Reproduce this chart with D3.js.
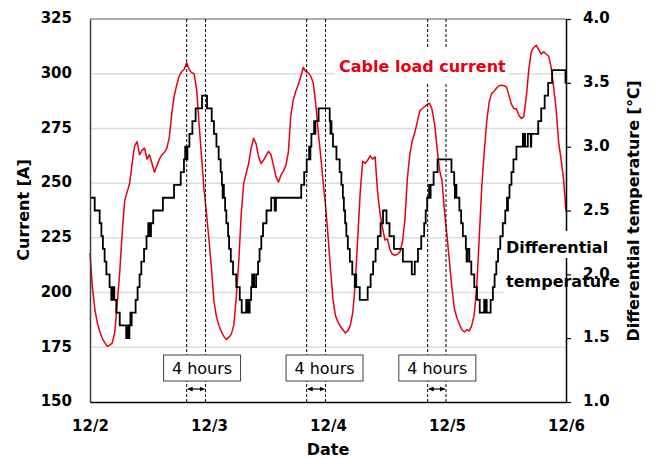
<!DOCTYPE html>
<html>
<head>
<meta charset="utf-8">
<script src="https://cdn.jsdelivr.net/npm/d3@7"></script>
<style>
body { margin: 0; background: #fff; }
text { font-family: "DejaVu Sans", Verdana, sans-serif; }
</style>
</head>
<body>
<div id="chart"></div>
<script>
document.addEventListener("DOMContentLoaded", main);

var dayLabels = ["12/2", "12/3", "12/4", "12/5", "12/6"];
var dayHours = [0, 24, 48, 72, 96];
var currentTicks = [150, 175, 200, 225, 250, 275, 300, 325];
var tempTicks = [1.0, 1.5, 2.0, 2.5, 3.0, 3.5, 4.0];

// cable load current [A], every half hour from 00:00
var current12_2 = [
	218, 202, 192, 186, 182, 179, 177, 175.5, 176, 177, 182, 195,
	209.5, 227.5, 242, 246, 250, 259, 267, 269, 263, 265, 266, 261,
	263, 259, 255, 258, 261, 263, 264, 266, 271, 282, 290, 295,
	299, 301, 302, 305, 302, 300.5, 300, 293, 277, 262, 247, 236
];
var current12_3 = [
	224, 211, 196, 189, 185, 182, 180, 178.5, 179.5, 181, 185, 198,
	214, 236, 250, 254.5, 259, 266, 270.5, 268, 262, 259, 260.5, 262.5,
	264.5, 263, 258, 253, 250.5, 253.5, 255.5, 258, 264, 281, 288, 292,
	295, 298.5, 303, 301, 300.5, 299, 296, 287, 274, 263, 251, 240
];
var current12_4 = [
	226, 211, 197, 189.5, 186.5, 184.5, 183, 181.5, 182.5, 185, 191, 204,
	225, 246, 260, 259, 260.5, 262.5, 261, 262, 246, 236, 229.5, 224,
	224.5, 219.5, 217.5, 217, 217.5, 218.5, 223, 233, 252, 263, 269.5, 273,
	278, 283, 284, 285, 286, 286.5, 283.5, 277, 266, 256, 251, 237
];
var current12_5 = [
	226, 214, 202, 192.5, 188.5, 185.5, 183, 182, 183, 182.5, 185, 190,
	203, 225, 248, 264, 278, 287, 291, 292, 293.5, 294.5, 294.7, 294.5,
	294, 290, 286, 284, 284, 281, 279.5, 280.5, 289.5, 302, 310, 312,
	313, 311, 309, 310, 309, 308, 303, 294, 284, 269, 261, 252
];
var currentEnd = 237;

// differential temperature [C], [hour, level] at each step change
var tempSteps12_2 = [
	[0, 2.6], [0.95, 2.5], [1.95, 2.4], [2.3, 2.3], [2.6, 2.2], [2.95, 2.1], [3.3, 2.0],
	[3.95, 1.9], [4.3, 1.8], [4.45, 1.9], [4.6, 1.8], [4.75, 1.9], [4.9, 1.8], [5.3, 1.7],
	[6.0, 1.6], [7.3, 1.5], [7.5, 1.6], [7.65, 1.5], [7.95, 1.6], [8.15, 1.7], [8.25, 1.6],
	[8.4, 1.7], [9.2, 1.8], [9.6, 1.9], [10.0, 2.0], [10.35, 2.1], [10.9, 2.2], [11.4, 2.3],
	[11.75, 2.4], [11.9, 2.3], [12.05, 2.4], [12.15, 2.3], [12.3, 2.4], [12.75, 2.5],
	[14.7, 2.6], [16.95, 2.7], [18.3, 2.8], [18.95, 2.9], [19.2, 3.0], [19.3, 2.9],
	[19.45, 3.0], [19.55, 2.9], [19.65, 3.0], [20.05, 3.1], [20.65, 3.2], [21.3, 3.3],
	[22.6, 3.4], [23.6, 3.3]
];
var tempSteps12_3 = [
	[24.55, 3.2], [25.0, 3.1], [25.5, 3.0], [25.95, 2.9], [26.35, 2.8], [26.6, 2.7],
	[26.75, 2.6], [26.85, 2.7], [27.0, 2.6], [27.25, 2.5], [27.5, 2.4], [27.85, 2.3],
	[28.05, 2.2], [28.4, 2.1], [28.85, 2.0], [29.5, 1.9], [30.2, 1.8], [30.6, 1.7],
	[31.5, 1.8], [31.85, 1.7], [32.2, 1.8], [32.5, 1.9], [32.7, 2.0], [32.8, 1.9],
	[33.0, 2.0], [33.1, 1.9], [33.5, 2.0], [33.9, 2.1], [34.2, 2.2], [34.55, 2.3],
	[34.9, 2.4], [35.6, 2.5], [36.55, 2.6], [37.25, 2.5], [37.5, 2.6], [42.6, 2.7],
	[43.2, 2.8], [43.7, 2.9], [44.2, 3.0], [44.35, 2.9], [44.45, 3.0], [44.65, 3.1],
	[45.2, 3.2], [45.35, 3.1], [45.45, 3.2], [46.1, 3.3]
];
var tempSteps12_4 = [
	[48.35, 3.2], [48.5, 3.1], [48.6, 3.2], [48.7, 3.1], [49.0, 3.0], [49.7, 2.9],
	[50.35, 2.8], [50.7, 2.7], [51.0, 2.6], [51.2, 2.5], [51.45, 2.4], [51.7, 2.3],
	[52.0, 2.2], [52.4, 2.1], [52.9, 2.0], [53.4, 1.9], [53.55, 2.0], [53.7, 1.9],
	[54.4, 1.8], [56.0, 1.9], [56.6, 2.0], [57.1, 2.1], [57.6, 2.2], [58.05, 2.3],
	[58.6, 2.4], [59.1, 2.5], [59.8, 2.4], [60.4, 2.3], [61.3, 2.2], [63.1, 2.1],
	[64.9, 2.0], [65.5, 2.1], [66.15, 2.2], [66.8, 2.3], [67.4, 2.4], [67.7, 2.5],
	[68.0, 2.6], [68.4, 2.7], [68.55, 2.6], [68.7, 2.7], [69.3, 2.8], [70.1, 2.9]
];
var tempSteps12_5 = [
	[72.9, 2.8], [73.45, 2.7], [73.6, 2.6], [73.7, 2.7], [73.9, 2.6], [74.5, 2.5],
	[74.85, 2.4], [75.2, 2.3], [75.8, 2.2], [75.95, 2.1], [76.1, 2.2], [76.5, 2.1],
	[76.9, 2.0], [77.5, 1.9], [78.05, 1.8], [78.6, 1.7], [79.5, 1.8], [79.6, 1.7],
	[79.9, 1.8], [80.0, 1.7], [80.8, 1.8], [81.25, 1.9], [81.6, 2.0], [81.95, 2.1],
	[82.3, 2.2], [82.75, 2.3], [83.25, 2.4], [83.75, 2.5], [84.1, 2.6], [84.2, 2.5],
	[84.3, 2.6], [84.6, 2.7], [85.0, 2.8], [85.4, 2.9], [86.0, 3.0], [87.3, 3.1],
	[87.45, 3.0], [87.6, 3.1], [87.75, 3.0], [88.3, 3.1], [88.9, 3.0], [89.0, 3.1],
	[90.4, 3.2], [91.0, 3.3], [91.7, 3.4], [92.4, 3.5], [93.2, 3.6], [95.9, 3.5], [96, 3.5]
];

// current peak -> temperature peak, and where the "4 hours" label sits
var peakPairs = [[19.5, 23.3], [43.7, 47.5], [68.1, 71.8]];
var lagLabelHours = [22.6, 47.3, 70.05];

var canvas = {};
var red = "#e60012";


function addCanvas(cont) {
	canvas.svg = d3.select(cont).append("svg")
		.attr("width", 655)
		.attr("height", 459);

	canvas.plot = { left: 90, right: 566, top: 19, bottom: 402 };

	canvas.x = d3.scaleLinear()
		.domain([0, 96])
		.range([canvas.plot.left, canvas.plot.right]);
	canvas.yL = d3.scaleLinear()
		.domain([150, 325])
		.range([canvas.plot.bottom, canvas.plot.top]);
	canvas.yR = d3.scaleLinear()
		.domain([1, 4])
		.range([canvas.plot.bottom, canvas.plot.top]);
}


function drawGrid() {
	var p = canvas.plot;
	canvas.svg.append("g").selectAll("line")
		.data(currentTicks.slice(1))
		.enter().append("line")
		.attr("x1", p.left)
		.attr("x2", p.right)
		.attr("y1", (d) => canvas.yL(d))
		.attr("y2", (d) => canvas.yL(d))
		.attr("stroke", (d) => d == 325 ? "#8c8c8c" : "#dcdcdc")
		.attr("stroke-width", 1.5);
}


function drawSeries() {
	var x = canvas.x;

	var current = [].concat(current12_2, current12_3, current12_4, current12_5, [currentEnd])
		.map((v, i) => ({ h: i * 0.5, v: v }));

	var temp = [].concat(tempSteps12_2, tempSteps12_3, tempSteps12_4, tempSteps12_5)
		.map((d) => ({ h: d[0], v: d[1] }));

	var currentLine = d3.line()
		.x((d) => x(d.h))
		.y((d) => canvas.yL(d.v));

	var tempLine = d3.line()
		.x((d) => x(d.h))
		.y((d) => canvas.yR(d.v))
		.curve(d3.curveStepAfter);

	canvas.svg.append("path")
		.datum(current)
		.attr("d", currentLine)
		.attr("fill", "none")
		.attr("stroke", red)
		.attr("stroke-width", 1.5)
		.attr("stroke-linejoin", "round");

	canvas.svg.append("path")
		.datum(temp)
		.attr("d", tempLine)
		.attr("fill", "none")
		.attr("stroke", "#000")
		.attr("stroke-width", 1.8);
}


function drawLags() {
	var p = canvas.plot;
	var x = canvas.x;

	var defs = canvas.svg.append("defs");
	defs.append("marker")
		.attr("id", "arrowhead")
		.attr("viewBox", "0 0 8 8")
		.attr("refX", 8)
		.attr("refY", 4)
		.attr("markerWidth", 5)
		.attr("markerHeight", 5)
		.attr("markerUnits", "userSpaceOnUse")
		.attr("orient", "auto-start-reverse")
		.append("path")
		.attr("d", "M0,0 L8,4 L0,8 z")
		.attr("fill", "#000");

	var lags = canvas.svg.append("g");

	peakPairs.forEach((pair) => {
		pair.forEach((h) => {
			lags.append("line")
				.attr("x1", x(h)).attr("x2", x(h))
				.attr("y1", p.top).attr("y2", p.bottom)
				.attr("stroke", "#000")
				.attr("stroke-width", 1)
				.attr("stroke-dasharray", "3,2");
		});

		lags.append("line")
			.attr("x1", x(pair[0]) + 1).attr("x2", x(pair[1]) - 1)
			.attr("y1", 389).attr("y2", 389)
			.attr("stroke", "#000")
			.attr("stroke-width", 1.2)
			.attr("marker-start", "url(#arrowhead)")
			.attr("marker-end", "url(#arrowhead)");
	});

	lagLabelHours.forEach((h) => {
		lags.append("rect")
			.attr("x", x(h) - 38.5)
			.attr("y", 355)
			.attr("width", 77)
			.attr("height", 26)
			.attr("fill", "#fff")
			.attr("stroke", "#404040")
			.attr("stroke-width", 1);
		lags.append("text")
			.attr("x", x(h))
			.attr("y", 374)
			.attr("text-anchor", "middle")
			.attr("font-size", 16)
			.text("4 hours");
	});
}


function drawAxes() {
	var p = canvas.plot;

	// white patch behind "temperature" inside the plot area
	canvas.svg.append("rect")
		.attr("x", 504).attr("y", 263)
		.attr("width", p.right - 504).attr("height", 33)
		.attr("fill", "#fff");

	var left = canvas.svg.append("g")
		.attr("transform", "translate(" + p.left + ",0)")
		.call(d3.axisLeft(canvas.yL)
			.tickValues(currentTicks)
			.tickSize(0)
			.tickPadding(18));

	var bottom = canvas.svg.append("g")
		.attr("transform", "translate(0," + p.bottom + ")")
		.call(d3.axisBottom(canvas.x)
			.tickValues(dayHours)
			.tickFormat((d, i) => dayLabels[i])
			.tickSize(0)
			.tickPadding(18));

	var right = canvas.svg.append("g")
		.attr("transform", "translate(" + p.right + ",0)")
		.call(d3.axisRight(canvas.yR)
			.tickValues(tempTicks)
			.tickFormat(d3.format(".1f"))
			.tickSizeInner(5)
			.tickSizeOuter(0)
			.tickPadding(12));

	[left, bottom, right].forEach((g) => {
		g.attr("font-family", null).attr("font-size", null);
		g.selectAll("text")
			.attr("font-size", 15)
			.attr("font-weight", "bold")
			.attr("fill", "#000");
		g.select(".domain")
			.attr("stroke", "#000")
			.attr("stroke-width", 1.5);
		g.selectAll(".tick line")
			.attr("stroke", "#000")
			.attr("stroke-width", 1.2);
	});
	left.select(".domain").attr("stroke", "#404040");
	left.selectAll("text").attr("dy", "0.25em");
	right.selectAll("text").attr("dy", "0.25em");
}


function drawLabels() {
	var svg = canvas.svg;

	svg.append("text")
		.attr("transform", "translate(29,210) rotate(-90)")
		.attr("text-anchor", "middle")
		.attr("font-size", 16)
		.attr("font-weight", "bold")
		.text("Current [A]");

	svg.append("text")
		.attr("transform", "translate(639,211) rotate(-90)")
		.attr("text-anchor", "middle")
		.attr("font-size", 16)
		.attr("font-weight", "bold")
		.text("Differential temperature [\u2103]");

	svg.append("text")
		.attr("x", 328)
		.attr("y", 455)
		.attr("text-anchor", "middle")
		.attr("font-size", 16)
		.attr("font-weight", "bold")
		.text("Date");

	svg.append("rect")
		.attr("x", 335).attr("y", 47)
		.attr("width", 173).attr("height", 36)
		.attr("fill", "#fff");
	svg.append("text")
		.attr("x", 339)
		.attr("y", 72)
		.attr("font-size", 16)
		.attr("font-weight", "bold")
		.attr("fill", red)
		.text("Cable load current");

	svg.append("rect")
		.attr("x", 504).attr("y", 231)
		.attr("width", 108).attr("height", 27)
		.attr("fill", "#fff");
	svg.append("text")
		.attr("x", 506)
		.attr("y", 253)
		.attr("font-size", 16)
		.attr("font-weight", "bold")
		.text("Differential");
	svg.append("text")
		.attr("x", 506)
		.attr("y", 287)
		.attr("font-size", 16)
		.attr("font-weight", "bold")
		.text("temperature");
}


function main() {
	addCanvas("#chart");
	drawGrid();
	drawSeries();
	drawLags();
	drawAxes();
	drawLabels();
}
</script>
</body>
</html>
